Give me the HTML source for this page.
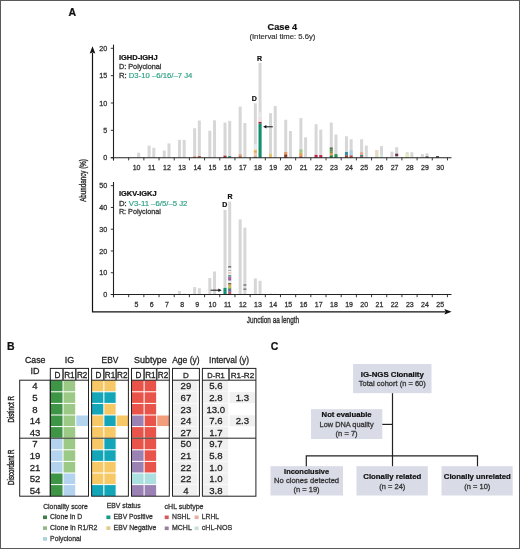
<!DOCTYPE html>
<html><head><meta charset="utf-8"><title>Case 4</title>
<style>
html,body{margin:0;padding:0;background:#fff;}
body{width:520px;height:549px;overflow:hidden;}
svg{display:block;will-change:transform;}
text{font-family:"Liberation Sans", sans-serif;}
</style></head>
<body>
<svg width="520" height="549" viewBox="0 0 520 549">
<rect x="0" y="0" width="520" height="549" fill="#fff"/>
<g id="panelA">
<text x="68.6" y="15.7" font-size="10.5" font-weight="bold" text-anchor="start" fill="#111" stroke="#111" stroke-width="0.22">A</text>
<text x="282.4" y="29.7" font-size="9.1" font-weight="bold" text-anchor="middle" fill="#111" stroke="#111" stroke-width="0.22" textLength="29.6" lengthAdjust="spacingAndGlyphs">Case 4</text>
<text x="282.4" y="39.3" font-size="7.4" text-anchor="middle" fill="#333" stroke="#333" stroke-width="0.18" textLength="66" lengthAdjust="spacingAndGlyphs">(Interval time: 5.6y)</text>
<rect x="137.12" y="152.75" width="3.00" height="4.95" fill="#d7d7d7"/>
<rect x="147.60" y="145.60" width="3.00" height="12.10" fill="#d7d7d7"/>
<rect x="152.30" y="147.80" width="3.00" height="9.90" fill="#d7d7d7"/>
<rect x="162.78" y="150.55" width="3.00" height="7.15" fill="#d7d7d7"/>
<rect x="167.48" y="143.40" width="3.00" height="14.30" fill="#d7d7d7"/>
<rect x="177.96" y="139.88" width="3.00" height="17.82" fill="#d7d7d7"/>
<rect x="182.66" y="139.88" width="3.00" height="17.82" fill="#d7d7d7"/>
<rect x="193.14" y="128.22" width="3.00" height="29.48" fill="#d7d7d7"/>
<rect x="197.84" y="120.52" width="3.00" height="37.18" fill="#d7d7d7"/>
<rect x="208.32" y="130.75" width="3.00" height="26.95" fill="#d7d7d7"/>
<rect x="213.02" y="120.30" width="3.00" height="37.40" fill="#d7d7d7"/>
<rect x="223.50" y="122.50" width="3.00" height="35.20" fill="#d7d7d7"/>
<rect x="228.20" y="120.85" width="3.00" height="36.85" fill="#d7d7d7"/>
<rect x="238.68" y="106.55" width="3.00" height="51.15" fill="#d7d7d7"/>
<rect x="243.38" y="123.05" width="3.00" height="34.65" fill="#d7d7d7"/>
<rect x="253.86" y="103.25" width="3.00" height="54.45" fill="#d7d7d7"/>
<rect x="258.56" y="62.82" width="3.00" height="94.88" fill="#d7d7d7"/>
<rect x="269.04" y="113.15" width="3.00" height="44.55" fill="#d7d7d7"/>
<rect x="273.74" y="106.00" width="3.00" height="51.70" fill="#d7d7d7"/>
<rect x="284.22" y="119.75" width="3.00" height="37.95" fill="#d7d7d7"/>
<rect x="288.92" y="131.02" width="3.00" height="26.67" fill="#d7d7d7"/>
<rect x="299.40" y="118.10" width="3.00" height="39.60" fill="#d7d7d7"/>
<rect x="304.10" y="137.35" width="3.00" height="20.35" fill="#d7d7d7"/>
<rect x="314.58" y="124.15" width="3.00" height="33.55" fill="#d7d7d7"/>
<rect x="319.28" y="129.65" width="3.00" height="28.05" fill="#d7d7d7"/>
<rect x="329.76" y="122.50" width="3.00" height="35.20" fill="#d7d7d7"/>
<rect x="334.46" y="134.60" width="3.00" height="23.10" fill="#d7d7d7"/>
<rect x="344.94" y="136.25" width="3.00" height="21.45" fill="#d7d7d7"/>
<rect x="349.64" y="139.27" width="3.00" height="18.43" fill="#d7d7d7"/>
<rect x="360.12" y="139.27" width="3.00" height="18.43" fill="#d7d7d7"/>
<rect x="364.82" y="145.60" width="3.00" height="12.10" fill="#d7d7d7"/>
<rect x="375.30" y="150.00" width="3.00" height="7.70" fill="#d7d7d7"/>
<rect x="380.00" y="146.15" width="3.00" height="11.55" fill="#d7d7d7"/>
<rect x="390.48" y="151.65" width="3.00" height="6.05" fill="#d7d7d7"/>
<rect x="395.18" y="147.25" width="3.00" height="10.45" fill="#d7d7d7"/>
<rect x="405.66" y="152.20" width="3.00" height="5.50" fill="#d7d7d7"/>
<rect x="410.36" y="152.20" width="3.00" height="5.50" fill="#d7d7d7"/>
<rect x="420.84" y="154.12" width="3.00" height="3.58" fill="#d7d7d7"/>
<rect x="425.54" y="153.30" width="3.00" height="4.40" fill="#d7d7d7"/>
<rect x="436.02" y="156.32" width="3.00" height="1.38" fill="#d7d7d7"/>
<rect x="193.14" y="156.70" width="3.00" height="1.00" fill="#c8553d"/>
<rect x="197.84" y="156.20" width="3.00" height="1.50" fill="#b5452f"/>
<rect x="223.50" y="155.70" width="3.00" height="2.00" fill="#a8322e"/>
<rect x="228.20" y="156.20" width="3.00" height="1.50" fill="#1b8f84"/>
<rect x="238.68" y="156.20" width="3.00" height="1.50" fill="#b0624a"/>
<rect x="238.68" y="154.20" width="3.00" height="2.00" fill="#e6a27a"/>
<rect x="253.86" y="156.50" width="3.00" height="1.20" fill="#8a5a90"/>
<rect x="253.86" y="155.10" width="3.00" height="1.40" fill="#f0c0a8"/>
<rect x="253.86" y="152.70" width="3.00" height="2.40" fill="#f2c8a8"/>
<rect x="253.86" y="150.20" width="3.00" height="2.50" fill="#e8a860"/>
<rect x="253.86" y="148.70" width="3.00" height="1.50" fill="#f6e6b0"/>
<rect x="253.86" y="144.20" width="3.00" height="4.50" fill="#e2ecf2"/>
<rect x="258.56" y="123.50" width="3.00" height="34.20" fill="#0f9070"/>
<rect x="258.56" y="121.80" width="3.00" height="1.70" fill="#a82838"/>
<rect x="258.56" y="116.70" width="3.00" height="5.10" fill="#f4dcdc"/>
<rect x="258.56" y="114.20" width="3.00" height="2.50" fill="#def0f0"/>
<rect x="258.56" y="111.70" width="3.00" height="2.50" fill="#f4e0e4"/>
<rect x="269.04" y="153.90" width="3.00" height="3.80" fill="#e9c36a"/>
<rect x="284.22" y="154.30" width="3.00" height="3.40" fill="#8a3a2a"/>
<rect x="284.22" y="152.00" width="3.00" height="2.30" fill="#e89a5a"/>
<rect x="299.40" y="156.30" width="3.00" height="1.40" fill="#9a4a2a"/>
<rect x="299.40" y="152.80" width="3.00" height="3.50" fill="#e8a050"/>
<rect x="299.40" y="149.40" width="3.00" height="3.40" fill="#9acb8a"/>
<rect x="314.58" y="154.90" width="3.00" height="2.80" fill="#c8234a"/>
<rect x="319.28" y="155.10" width="3.00" height="2.60" fill="#c8234a"/>
<rect x="329.76" y="155.30" width="3.00" height="2.40" fill="#1f7a3a"/>
<rect x="329.76" y="153.30" width="3.00" height="2.00" fill="#e0a050"/>
<rect x="329.76" y="151.30" width="3.00" height="2.00" fill="#8a8a40"/>
<rect x="329.76" y="149.30" width="3.00" height="2.00" fill="#4a9a50"/>
<rect x="329.76" y="147.50" width="3.00" height="1.80" fill="#5a6a4a"/>
<rect x="334.46" y="154.20" width="3.00" height="3.50" fill="#1a9a50"/>
<rect x="344.94" y="155.30" width="3.00" height="2.40" fill="#a0402a"/>
<rect x="344.94" y="152.00" width="3.00" height="3.30" fill="#3a8aa0"/>
<rect x="349.64" y="155.30" width="3.00" height="2.40" fill="#c04040"/>
<rect x="349.64" y="150.30" width="3.00" height="5.00" fill="#a9cfe6"/>
<rect x="360.12" y="156.30" width="3.00" height="1.40" fill="#b03a2a"/>
<rect x="360.12" y="154.80" width="3.00" height="1.50" fill="#2a8a8a"/>
<rect x="360.12" y="152.30" width="3.00" height="2.50" fill="#f0a080"/>
<rect x="375.30" y="150.00" width="3.00" height="7.70" fill="#e8dcc0"/>
<rect x="380.00" y="154.70" width="3.00" height="3.00" fill="#cfe8e0"/>
<rect x="395.18" y="153.70" width="3.00" height="2.50" fill="#6a2a4a"/>
<rect x="405.66" y="153.70" width="3.00" height="4.00" fill="#e4ecb0"/>
<rect x="425.54" y="156.50" width="3.00" height="1.20" fill="#333"/>
<rect x="436.02" y="156.20" width="3.00" height="1.50" fill="#333"/>
<line x1="113.5" y1="44.6" x2="113.5" y2="160.39999999999998" stroke="#222" stroke-width="1.1"/>
<line x1="110.8" y1="157.7" x2="451.5" y2="157.7" stroke="#222" stroke-width="1.1"/>
<line x1="113.5" y1="157.7" x2="113.5" y2="160.39999999999998" stroke="#222" stroke-width="0.9"/>
<line x1="128.68" y1="157.7" x2="128.68" y2="160.39999999999998" stroke="#222" stroke-width="0.9"/>
<line x1="143.86" y1="157.7" x2="143.86" y2="160.39999999999998" stroke="#222" stroke-width="0.9"/>
<line x1="159.04" y1="157.7" x2="159.04" y2="160.39999999999998" stroke="#222" stroke-width="0.9"/>
<line x1="174.22" y1="157.7" x2="174.22" y2="160.39999999999998" stroke="#222" stroke-width="0.9"/>
<line x1="189.4" y1="157.7" x2="189.4" y2="160.39999999999998" stroke="#222" stroke-width="0.9"/>
<line x1="204.58" y1="157.7" x2="204.58" y2="160.39999999999998" stroke="#222" stroke-width="0.9"/>
<line x1="219.76" y1="157.7" x2="219.76" y2="160.39999999999998" stroke="#222" stroke-width="0.9"/>
<line x1="234.94" y1="157.7" x2="234.94" y2="160.39999999999998" stroke="#222" stroke-width="0.9"/>
<line x1="250.12" y1="157.7" x2="250.12" y2="160.39999999999998" stroke="#222" stroke-width="0.9"/>
<line x1="265.3" y1="157.7" x2="265.3" y2="160.39999999999998" stroke="#222" stroke-width="0.9"/>
<line x1="280.48" y1="157.7" x2="280.48" y2="160.39999999999998" stroke="#222" stroke-width="0.9"/>
<line x1="295.66" y1="157.7" x2="295.66" y2="160.39999999999998" stroke="#222" stroke-width="0.9"/>
<line x1="310.84" y1="157.7" x2="310.84" y2="160.39999999999998" stroke="#222" stroke-width="0.9"/>
<line x1="326.02" y1="157.7" x2="326.02" y2="160.39999999999998" stroke="#222" stroke-width="0.9"/>
<line x1="341.2" y1="157.7" x2="341.2" y2="160.39999999999998" stroke="#222" stroke-width="0.9"/>
<line x1="356.38" y1="157.7" x2="356.38" y2="160.39999999999998" stroke="#222" stroke-width="0.9"/>
<line x1="371.56" y1="157.7" x2="371.56" y2="160.39999999999998" stroke="#222" stroke-width="0.9"/>
<line x1="386.74" y1="157.7" x2="386.74" y2="160.39999999999998" stroke="#222" stroke-width="0.9"/>
<line x1="401.92" y1="157.7" x2="401.92" y2="160.39999999999998" stroke="#222" stroke-width="0.9"/>
<line x1="417.1" y1="157.7" x2="417.1" y2="160.39999999999998" stroke="#222" stroke-width="0.9"/>
<line x1="432.28" y1="157.7" x2="432.28" y2="160.39999999999998" stroke="#222" stroke-width="0.9"/>
<line x1="447.46" y1="157.7" x2="447.46" y2="160.39999999999998" stroke="#222" stroke-width="0.9"/>
<line x1="110.8" y1="157.7" x2="113.5" y2="157.7" stroke="#222" stroke-width="0.9"/>
<text x="107.3" y="160.3" font-size="7.2" text-anchor="end" fill="#333" stroke="#333" stroke-width="0.28">0</text>
<line x1="110.8" y1="130.35" x2="113.5" y2="130.35" stroke="#222" stroke-width="0.9"/>
<text x="107.3" y="132.95" font-size="7.2" text-anchor="end" fill="#333" stroke="#333" stroke-width="0.28">5</text>
<line x1="110.8" y1="103.0" x2="113.5" y2="103.0" stroke="#222" stroke-width="0.9"/>
<text x="107.3" y="105.6" font-size="7.2" text-anchor="end" fill="#333" stroke="#333" stroke-width="0.28" textLength="8.0" lengthAdjust="spacingAndGlyphs">10</text>
<line x1="110.8" y1="75.65" x2="113.5" y2="75.65" stroke="#222" stroke-width="0.9"/>
<text x="107.3" y="78.25" font-size="7.2" text-anchor="end" fill="#333" stroke="#333" stroke-width="0.28" textLength="8.0" lengthAdjust="spacingAndGlyphs">15</text>
<line x1="110.8" y1="48.3" x2="113.5" y2="48.3" stroke="#222" stroke-width="0.9"/>
<text x="107.3" y="50.9" font-size="7.2" text-anchor="end" fill="#333" stroke="#333" stroke-width="0.28" textLength="8.0" lengthAdjust="spacingAndGlyphs">20</text>
<text x="136.57" y="170.3" font-size="7.0" text-anchor="middle" fill="#333" stroke="#333" stroke-width="0.28">10</text>
<text x="151.75" y="170.3" font-size="7.0" text-anchor="middle" fill="#333" stroke="#333" stroke-width="0.28">11</text>
<text x="166.93" y="170.3" font-size="7.0" text-anchor="middle" fill="#333" stroke="#333" stroke-width="0.28">12</text>
<text x="182.11" y="170.3" font-size="7.0" text-anchor="middle" fill="#333" stroke="#333" stroke-width="0.28">13</text>
<text x="197.29" y="170.3" font-size="7.0" text-anchor="middle" fill="#333" stroke="#333" stroke-width="0.28">14</text>
<text x="212.47" y="170.3" font-size="7.0" text-anchor="middle" fill="#333" stroke="#333" stroke-width="0.28">15</text>
<text x="227.65" y="170.3" font-size="7.0" text-anchor="middle" fill="#333" stroke="#333" stroke-width="0.28">16</text>
<text x="242.83" y="170.3" font-size="7.0" text-anchor="middle" fill="#333" stroke="#333" stroke-width="0.28">17</text>
<text x="258.01" y="170.3" font-size="7.0" text-anchor="middle" fill="#333" stroke="#333" stroke-width="0.28">18</text>
<text x="273.19" y="170.3" font-size="7.0" text-anchor="middle" fill="#333" stroke="#333" stroke-width="0.28">19</text>
<text x="288.37" y="170.3" font-size="7.0" text-anchor="middle" fill="#333" stroke="#333" stroke-width="0.28">20</text>
<text x="303.55" y="170.3" font-size="7.0" text-anchor="middle" fill="#333" stroke="#333" stroke-width="0.28">21</text>
<text x="318.73" y="170.3" font-size="7.0" text-anchor="middle" fill="#333" stroke="#333" stroke-width="0.28">22</text>
<text x="333.91" y="170.3" font-size="7.0" text-anchor="middle" fill="#333" stroke="#333" stroke-width="0.28">23</text>
<text x="349.09" y="170.3" font-size="7.0" text-anchor="middle" fill="#333" stroke="#333" stroke-width="0.28">24</text>
<text x="364.27" y="170.3" font-size="7.0" text-anchor="middle" fill="#333" stroke="#333" stroke-width="0.28">25</text>
<text x="379.45" y="170.3" font-size="7.0" text-anchor="middle" fill="#333" stroke="#333" stroke-width="0.28">26</text>
<text x="394.63" y="170.3" font-size="7.0" text-anchor="middle" fill="#333" stroke="#333" stroke-width="0.28">27</text>
<text x="409.81" y="170.3" font-size="7.0" text-anchor="middle" fill="#333" stroke="#333" stroke-width="0.28">28</text>
<text x="424.99" y="170.3" font-size="7.0" text-anchor="middle" fill="#333" stroke="#333" stroke-width="0.28">29</text>
<text x="440.17" y="170.3" font-size="7.0" text-anchor="middle" fill="#333" stroke="#333" stroke-width="0.28">30</text>
<rect x="132.42" y="293.96" width="3.00" height="0.54" fill="#d7d7d7"/>
<rect x="137.12" y="293.96" width="3.00" height="0.54" fill="#d7d7d7"/>
<rect x="147.60" y="293.96" width="3.00" height="0.54" fill="#d7d7d7"/>
<rect x="152.30" y="293.96" width="3.00" height="0.54" fill="#d7d7d7"/>
<rect x="162.78" y="293.85" width="3.00" height="0.65" fill="#d7d7d7"/>
<rect x="167.48" y="293.85" width="3.00" height="0.65" fill="#d7d7d7"/>
<rect x="177.96" y="291.03" width="3.00" height="3.47" fill="#d7d7d7"/>
<rect x="182.66" y="293.63" width="3.00" height="0.87" fill="#d7d7d7"/>
<rect x="193.14" y="287.12" width="3.00" height="7.38" fill="#d7d7d7"/>
<rect x="197.84" y="288.21" width="3.00" height="6.29" fill="#d7d7d7"/>
<rect x="208.32" y="278.01" width="3.00" height="16.49" fill="#d7d7d7"/>
<rect x="213.02" y="271.50" width="3.00" height="23.00" fill="#d7d7d7"/>
<rect x="223.50" y="209.87" width="3.00" height="84.63" fill="#d7d7d7"/>
<rect x="228.20" y="201.62" width="3.00" height="92.88" fill="#d7d7d7"/>
<rect x="238.68" y="219.42" width="3.00" height="75.08" fill="#d7d7d7"/>
<rect x="243.38" y="227.66" width="3.00" height="66.84" fill="#d7d7d7"/>
<rect x="253.86" y="278.44" width="3.00" height="16.06" fill="#d7d7d7"/>
<rect x="258.56" y="280.83" width="3.00" height="13.67" fill="#d7d7d7"/>
<rect x="269.04" y="293.63" width="3.00" height="0.87" fill="#d7d7d7"/>
<rect x="273.74" y="293.85" width="3.00" height="0.65" fill="#d7d7d7"/>
<rect x="284.22" y="293.96" width="3.00" height="0.54" fill="#d7d7d7"/>
<rect x="288.92" y="293.96" width="3.00" height="0.54" fill="#d7d7d7"/>
<rect x="299.40" y="294.07" width="3.00" height="0.43" fill="#d7d7d7"/>
<rect x="304.10" y="294.07" width="3.00" height="0.43" fill="#d7d7d7"/>
<rect x="314.58" y="294.07" width="3.00" height="0.43" fill="#d7d7d7"/>
<rect x="319.28" y="294.07" width="3.00" height="0.43" fill="#d7d7d7"/>
<rect x="329.76" y="294.07" width="3.00" height="0.43" fill="#d7d7d7"/>
<rect x="334.46" y="294.07" width="3.00" height="0.43" fill="#d7d7d7"/>
<rect x="344.94" y="294.07" width="3.00" height="0.43" fill="#d7d7d7"/>
<rect x="349.64" y="294.07" width="3.00" height="0.43" fill="#d7d7d7"/>
<rect x="360.12" y="294.17" width="3.00" height="0.33" fill="#d7d7d7"/>
<rect x="364.82" y="294.17" width="3.00" height="0.33" fill="#d7d7d7"/>
<rect x="375.30" y="294.17" width="3.00" height="0.33" fill="#d7d7d7"/>
<rect x="380.00" y="294.17" width="3.00" height="0.33" fill="#d7d7d7"/>
<rect x="390.48" y="294.17" width="3.00" height="0.33" fill="#d7d7d7"/>
<rect x="395.18" y="294.17" width="3.00" height="0.33" fill="#d7d7d7"/>
<rect x="405.66" y="294.28" width="3.00" height="0.22" fill="#d7d7d7"/>
<rect x="410.36" y="294.28" width="3.00" height="0.22" fill="#d7d7d7"/>
<rect x="420.84" y="294.28" width="3.00" height="0.22" fill="#d7d7d7"/>
<rect x="425.54" y="294.28" width="3.00" height="0.22" fill="#d7d7d7"/>
<rect x="436.02" y="294.28" width="3.00" height="0.22" fill="#d7d7d7"/>
<rect x="440.72" y="294.28" width="3.00" height="0.22" fill="#d7d7d7"/>
<rect x="223.50" y="287.90" width="3.00" height="6.60" fill="#0f9470"/>
<rect x="228.20" y="291.50" width="3.00" height="3.00" fill="#b06070"/>
<rect x="228.20" y="288.90" width="3.00" height="2.60" fill="#7060a0"/>
<rect x="228.20" y="287.50" width="3.00" height="1.40" fill="#60a040"/>
<rect x="228.20" y="286.30" width="3.00" height="1.20" fill="#b0d040"/>
<rect x="228.20" y="284.30" width="3.00" height="2.00" fill="#e0a050"/>
<rect x="228.20" y="283.00" width="3.00" height="1.30" fill="#706040"/>
<rect x="228.20" y="280.50" width="3.00" height="2.50" fill="#e4f2f2"/>
<rect x="228.20" y="278.10" width="3.00" height="2.40" fill="#9a5aa8"/>
<rect x="228.20" y="276.50" width="3.00" height="1.60" fill="#c060a0"/>
<rect x="228.20" y="274.90" width="3.00" height="1.60" fill="#50a890"/>
<rect x="228.20" y="273.50" width="3.00" height="1.40" fill="#f4f0f0"/>
<rect x="228.20" y="272.20" width="3.00" height="1.30" fill="#f0c0a0"/>
<rect x="228.20" y="270.90" width="3.00" height="1.30" fill="#f0f0f0"/>
<rect x="228.20" y="269.90" width="3.00" height="1.00" fill="#aaaaaa"/>
<rect x="228.20" y="267.60" width="3.00" height="2.30" fill="#ececec"/>
<rect x="228.20" y="266.00" width="3.00" height="1.60" fill="#777777"/>
<rect x="243.38" y="288.50" width="3.00" height="1.40" fill="#777"/>
<rect x="243.38" y="284.30" width="3.00" height="1.40" fill="#777"/>
<line x1="113.5" y1="182.0" x2="113.5" y2="297.2" stroke="#222" stroke-width="1.1"/>
<line x1="110.8" y1="294.5" x2="451.5" y2="294.5" stroke="#222" stroke-width="1.1"/>
<line x1="113.5" y1="294.5" x2="113.5" y2="297.2" stroke="#222" stroke-width="0.9"/>
<line x1="128.68" y1="294.5" x2="128.68" y2="297.2" stroke="#222" stroke-width="0.9"/>
<line x1="143.86" y1="294.5" x2="143.86" y2="297.2" stroke="#222" stroke-width="0.9"/>
<line x1="159.04" y1="294.5" x2="159.04" y2="297.2" stroke="#222" stroke-width="0.9"/>
<line x1="174.22" y1="294.5" x2="174.22" y2="297.2" stroke="#222" stroke-width="0.9"/>
<line x1="189.4" y1="294.5" x2="189.4" y2="297.2" stroke="#222" stroke-width="0.9"/>
<line x1="204.58" y1="294.5" x2="204.58" y2="297.2" stroke="#222" stroke-width="0.9"/>
<line x1="219.76" y1="294.5" x2="219.76" y2="297.2" stroke="#222" stroke-width="0.9"/>
<line x1="234.94" y1="294.5" x2="234.94" y2="297.2" stroke="#222" stroke-width="0.9"/>
<line x1="250.12" y1="294.5" x2="250.12" y2="297.2" stroke="#222" stroke-width="0.9"/>
<line x1="265.3" y1="294.5" x2="265.3" y2="297.2" stroke="#222" stroke-width="0.9"/>
<line x1="280.48" y1="294.5" x2="280.48" y2="297.2" stroke="#222" stroke-width="0.9"/>
<line x1="295.66" y1="294.5" x2="295.66" y2="297.2" stroke="#222" stroke-width="0.9"/>
<line x1="310.84" y1="294.5" x2="310.84" y2="297.2" stroke="#222" stroke-width="0.9"/>
<line x1="326.02" y1="294.5" x2="326.02" y2="297.2" stroke="#222" stroke-width="0.9"/>
<line x1="341.2" y1="294.5" x2="341.2" y2="297.2" stroke="#222" stroke-width="0.9"/>
<line x1="356.38" y1="294.5" x2="356.38" y2="297.2" stroke="#222" stroke-width="0.9"/>
<line x1="371.56" y1="294.5" x2="371.56" y2="297.2" stroke="#222" stroke-width="0.9"/>
<line x1="386.74" y1="294.5" x2="386.74" y2="297.2" stroke="#222" stroke-width="0.9"/>
<line x1="401.92" y1="294.5" x2="401.92" y2="297.2" stroke="#222" stroke-width="0.9"/>
<line x1="417.1" y1="294.5" x2="417.1" y2="297.2" stroke="#222" stroke-width="0.9"/>
<line x1="432.28" y1="294.5" x2="432.28" y2="297.2" stroke="#222" stroke-width="0.9"/>
<line x1="447.46" y1="294.5" x2="447.46" y2="297.2" stroke="#222" stroke-width="0.9"/>
<line x1="110.8" y1="294.5" x2="113.5" y2="294.5" stroke="#222" stroke-width="0.9"/>
<text x="107.3" y="297.1" font-size="7.2" text-anchor="end" fill="#333" stroke="#333" stroke-width="0.28">0</text>
<line x1="110.8" y1="272.74" x2="113.5" y2="272.74" stroke="#222" stroke-width="0.9"/>
<text x="107.3" y="275.34" font-size="7.2" text-anchor="end" fill="#333" stroke="#333" stroke-width="0.28" textLength="8.0" lengthAdjust="spacingAndGlyphs">10</text>
<line x1="110.8" y1="250.98" x2="113.5" y2="250.98" stroke="#222" stroke-width="0.9"/>
<text x="107.3" y="253.58" font-size="7.2" text-anchor="end" fill="#333" stroke="#333" stroke-width="0.28" textLength="8.0" lengthAdjust="spacingAndGlyphs">20</text>
<line x1="110.8" y1="229.22" x2="113.5" y2="229.22" stroke="#222" stroke-width="0.9"/>
<text x="107.3" y="231.82" font-size="7.2" text-anchor="end" fill="#333" stroke="#333" stroke-width="0.28" textLength="8.0" lengthAdjust="spacingAndGlyphs">30</text>
<line x1="110.8" y1="207.46" x2="113.5" y2="207.46" stroke="#222" stroke-width="0.9"/>
<text x="107.3" y="210.06" font-size="7.2" text-anchor="end" fill="#333" stroke="#333" stroke-width="0.28" textLength="8.0" lengthAdjust="spacingAndGlyphs">40</text>
<line x1="110.8" y1="185.7" x2="113.5" y2="185.7" stroke="#222" stroke-width="0.9"/>
<text x="107.3" y="188.3" font-size="7.2" text-anchor="end" fill="#333" stroke="#333" stroke-width="0.28" textLength="8.0" lengthAdjust="spacingAndGlyphs">50</text>
<text x="136.57" y="306.6" font-size="7.0" text-anchor="middle" fill="#333" stroke="#333" stroke-width="0.28">5</text>
<text x="151.75" y="306.6" font-size="7.0" text-anchor="middle" fill="#333" stroke="#333" stroke-width="0.28">6</text>
<text x="166.93" y="306.6" font-size="7.0" text-anchor="middle" fill="#333" stroke="#333" stroke-width="0.28">7</text>
<text x="182.11" y="306.6" font-size="7.0" text-anchor="middle" fill="#333" stroke="#333" stroke-width="0.28">8</text>
<text x="197.29" y="306.6" font-size="7.0" text-anchor="middle" fill="#333" stroke="#333" stroke-width="0.28">9</text>
<text x="212.47" y="306.6" font-size="7.0" text-anchor="middle" fill="#333" stroke="#333" stroke-width="0.28">10</text>
<text x="227.65" y="306.6" font-size="7.0" text-anchor="middle" fill="#333" stroke="#333" stroke-width="0.28">11</text>
<text x="242.83" y="306.6" font-size="7.0" text-anchor="middle" fill="#333" stroke="#333" stroke-width="0.28">12</text>
<text x="258.01" y="306.6" font-size="7.0" text-anchor="middle" fill="#333" stroke="#333" stroke-width="0.28">13</text>
<text x="273.19" y="306.6" font-size="7.0" text-anchor="middle" fill="#333" stroke="#333" stroke-width="0.28">14</text>
<text x="288.37" y="306.6" font-size="7.0" text-anchor="middle" fill="#333" stroke="#333" stroke-width="0.28">15</text>
<text x="303.55" y="306.6" font-size="7.0" text-anchor="middle" fill="#333" stroke="#333" stroke-width="0.28">16</text>
<text x="318.73" y="306.6" font-size="7.0" text-anchor="middle" fill="#333" stroke="#333" stroke-width="0.28">17</text>
<text x="333.91" y="306.6" font-size="7.0" text-anchor="middle" fill="#333" stroke="#333" stroke-width="0.28">18</text>
<text x="349.09" y="306.6" font-size="7.0" text-anchor="middle" fill="#333" stroke="#333" stroke-width="0.28">19</text>
<text x="364.27" y="306.6" font-size="7.0" text-anchor="middle" fill="#333" stroke="#333" stroke-width="0.28">20</text>
<text x="379.45" y="306.6" font-size="7.0" text-anchor="middle" fill="#333" stroke="#333" stroke-width="0.28">21</text>
<text x="394.63" y="306.6" font-size="7.0" text-anchor="middle" fill="#333" stroke="#333" stroke-width="0.28">22</text>
<text x="409.81" y="306.6" font-size="7.0" text-anchor="middle" fill="#333" stroke="#333" stroke-width="0.28">23</text>
<text x="424.99" y="306.6" font-size="7.0" text-anchor="middle" fill="#333" stroke="#333" stroke-width="0.28">24</text>
<text x="440.17" y="306.6" font-size="7.0" text-anchor="middle" fill="#333" stroke="#333" stroke-width="0.28">25</text>
<text x="118.9" y="60.1" font-size="7.2" font-weight="bold" text-anchor="start" fill="#111" stroke="#111" stroke-width="0.22" textLength="38.8" lengthAdjust="spacingAndGlyphs">IGHD-IGHJ</text>
<text x="118.9" y="69.0" font-size="7.2" text-anchor="start" fill="#333" stroke="#333" stroke-width="0.28" textLength="42.6" lengthAdjust="spacingAndGlyphs">D: Polyclonal</text>
<text x="118.9" y="78.2" font-size="7.2" text-anchor="start" fill="#333" stroke="#333" stroke-width="0.28" textLength="73.4" lengthAdjust="spacingAndGlyphs">R: <tspan fill="#2fa285" stroke="#2fa285" stroke-width="0.18">D3-10 –6/16/–7 J4</tspan></text>
<text x="118.9" y="196.1" font-size="7.2" font-weight="bold" text-anchor="start" fill="#111" stroke="#111" stroke-width="0.22" textLength="37.7" lengthAdjust="spacingAndGlyphs">IGKV-IGKJ</text>
<text x="118.9" y="205.5" font-size="7.2" text-anchor="start" fill="#333" stroke="#333" stroke-width="0.28" textLength="68.5" lengthAdjust="spacingAndGlyphs">D: <tspan fill="#2fa285" stroke="#2fa285" stroke-width="0.18">V3-11 –6/5/–5 J2</tspan></text>
<text x="118.9" y="214.2" font-size="7.2" text-anchor="start" fill="#333" stroke="#333" stroke-width="0.28" textLength="42.0" lengthAdjust="spacingAndGlyphs">R: Polyclonal</text>
<text x="259.6" y="60.8" font-size="7.0" font-weight="bold" text-anchor="middle" fill="#111" stroke="#111" stroke-width="0.22">R</text>
<text x="254.4" y="100.8" font-size="7.0" font-weight="bold" text-anchor="middle" fill="#111" stroke="#111" stroke-width="0.22">D</text>
<text x="230.0" y="199.1" font-size="7.0" font-weight="bold" text-anchor="middle" fill="#111" stroke="#111" stroke-width="0.22">R</text>
<text x="224.7" y="207.4" font-size="7.0" font-weight="bold" text-anchor="middle" fill="#111" stroke="#111" stroke-width="0.22">D</text>
<line x1="272.8" y1="126.8" x2="265.76" y2="126.8" stroke="#111" stroke-width="1.0"/>
<polygon points="263.2,126.8 266.4,125.0 266.4,128.6" fill="#111"/>
<line x1="210.6" y1="290.2" x2="219.04" y2="290.2" stroke="#111" stroke-width="1.0"/>
<polygon points="221.6,290.2 218.4,288.4 218.4,292.0" fill="#111"/>
<path d="M92.5 53 L92.5 311.8 L445.5 311.8" fill="none" stroke="#111" stroke-width="1.2"/>
<polygon points="92.5,46.3 89.7,53.6 92.5,52.4 95.3,53.6" fill="#111"/>
<polygon points="451.6,311.8 444.4,309.1 445.6,311.8 444.4,314.5" fill="#111"/>
<text x="86.2" y="180.5" font-size="8.3" text-anchor="middle" fill="#333" stroke="#333" stroke-width="0.4" textLength="42.7" lengthAdjust="spacingAndGlyphs" transform="rotate(-90 86.2 180.5)">Abundancy (%)</text>
<text x="273.0" y="322.9" font-size="9.6" text-anchor="middle" fill="#333" stroke="#333" stroke-width="0.4" textLength="52.3" lengthAdjust="spacingAndGlyphs">Junction aa length</text>
</g>
<g id="panelB">
<text x="7.0" y="349.5" font-size="10.5" font-weight="bold" text-anchor="start" fill="#111" stroke="#111" stroke-width="0.22">B</text>
<text x="35.2" y="362.8" font-size="9.0" text-anchor="middle" fill="#222" stroke="#222" stroke-width="0.28" textLength="20.4" lengthAdjust="spacingAndGlyphs">Case</text>
<text x="35.0" y="374.3" font-size="9.0" text-anchor="middle" fill="#222" stroke="#222" stroke-width="0.28">ID</text>
<text x="69.4" y="362.8" font-size="9.0" text-anchor="middle" fill="#222" stroke="#222" stroke-width="0.28">IG</text>
<text x="110.0" y="362.8" font-size="9.0" text-anchor="middle" fill="#222" stroke="#222" stroke-width="0.28" textLength="16.8" lengthAdjust="spacingAndGlyphs">EBV</text>
<text x="150.4" y="362.8" font-size="9.0" text-anchor="middle" fill="#222" stroke="#222" stroke-width="0.28" textLength="32.8" lengthAdjust="spacingAndGlyphs">Subtype</text>
<text x="185.9" y="362.8" font-size="9.0" text-anchor="middle" fill="#222" stroke="#222" stroke-width="0.28" textLength="27.5" lengthAdjust="spacingAndGlyphs">Age (y)</text>
<text x="229.1" y="362.8" font-size="9.0" text-anchor="middle" fill="#222" stroke="#222" stroke-width="0.28" textLength="40" lengthAdjust="spacingAndGlyphs">Interval (y)</text>
<rect x="50.30" y="380.20" width="12.73" height="11.60" fill="#3e9546"/>
<rect x="63.03" y="380.20" width="12.73" height="11.60" fill="#9cca86"/>
<rect x="50.30" y="391.80" width="12.73" height="11.60" fill="#3e9546"/>
<rect x="63.03" y="391.80" width="12.73" height="11.60" fill="#9cca86"/>
<rect x="50.30" y="403.40" width="12.73" height="11.60" fill="#3e9546"/>
<rect x="63.03" y="403.40" width="12.73" height="11.60" fill="#9cca86"/>
<rect x="50.30" y="415.00" width="12.73" height="11.60" fill="#3e9546"/>
<rect x="63.03" y="415.00" width="12.73" height="11.60" fill="#9cca86"/>
<rect x="75.77" y="415.00" width="12.73" height="11.60" fill="#b3d3ee"/>
<rect x="50.30" y="426.60" width="12.73" height="11.60" fill="#3e9546"/>
<rect x="63.03" y="426.60" width="12.73" height="11.60" fill="#9cca86"/>
<rect x="50.30" y="438.20" width="12.73" height="11.60" fill="#b3d3ee"/>
<rect x="63.03" y="438.20" width="12.73" height="11.60" fill="#9cca86"/>
<rect x="50.30" y="449.80" width="12.73" height="11.60" fill="#b3d3ee"/>
<rect x="63.03" y="449.80" width="12.73" height="11.60" fill="#9cca86"/>
<rect x="50.30" y="461.40" width="12.73" height="11.60" fill="#b3d3ee"/>
<rect x="63.03" y="461.40" width="12.73" height="11.60" fill="#9cca86"/>
<rect x="50.30" y="473.00" width="12.73" height="11.60" fill="#3e9546"/>
<rect x="63.03" y="473.00" width="12.73" height="11.60" fill="#b3d3ee"/>
<rect x="50.30" y="484.60" width="12.73" height="11.60" fill="#3e9546"/>
<rect x="63.03" y="484.60" width="12.73" height="11.60" fill="#b3d3ee"/>
<rect x="50.30" y="391.30" width="38.20" height="1.00" fill="#fff"/>
<rect x="50.30" y="402.90" width="38.20" height="1.00" fill="#fff"/>
<rect x="50.30" y="414.50" width="38.20" height="1.00" fill="#fff"/>
<rect x="50.30" y="426.10" width="38.20" height="1.00" fill="#fff"/>
<rect x="50.30" y="437.70" width="38.20" height="1.00" fill="#fff"/>
<rect x="50.30" y="449.30" width="38.20" height="1.00" fill="#fff"/>
<rect x="50.30" y="460.90" width="38.20" height="1.00" fill="#fff"/>
<rect x="50.30" y="472.50" width="38.20" height="1.00" fill="#fff"/>
<rect x="50.30" y="484.10" width="38.20" height="1.00" fill="#fff"/>
<rect x="62.53" y="380.20" width="1.00" height="116.00" fill="#fff"/>
<rect x="75.27" y="380.20" width="1.00" height="116.00" fill="#fff"/>
<rect x="91.60" y="380.20" width="12.27" height="11.60" fill="#f7c866"/>
<rect x="103.87" y="380.20" width="12.27" height="11.60" fill="#f7c866"/>
<rect x="91.60" y="391.80" width="12.27" height="11.60" fill="#13a6b9"/>
<rect x="103.87" y="391.80" width="12.27" height="11.60" fill="#13a6b9"/>
<rect x="91.60" y="403.40" width="12.27" height="11.60" fill="#13a6b9"/>
<rect x="103.87" y="403.40" width="12.27" height="11.60" fill="#f7c866"/>
<rect x="91.60" y="415.00" width="12.27" height="11.60" fill="#f7c866"/>
<rect x="103.87" y="415.00" width="12.27" height="11.60" fill="#13a6b9"/>
<rect x="116.13" y="415.00" width="12.27" height="11.60" fill="#f7c866"/>
<rect x="91.60" y="426.60" width="12.27" height="11.60" fill="#f7c866"/>
<rect x="103.87" y="426.60" width="12.27" height="11.60" fill="#f7c866"/>
<rect x="91.60" y="438.20" width="12.27" height="11.60" fill="#f7c866"/>
<rect x="103.87" y="438.20" width="12.27" height="11.60" fill="#13a6b9"/>
<rect x="91.60" y="449.80" width="12.27" height="11.60" fill="#13a6b9"/>
<rect x="103.87" y="449.80" width="12.27" height="11.60" fill="#13a6b9"/>
<rect x="91.60" y="461.40" width="12.27" height="11.60" fill="#f7c866"/>
<rect x="103.87" y="461.40" width="12.27" height="11.60" fill="#f7c866"/>
<rect x="91.60" y="473.00" width="12.27" height="11.60" fill="#f7c866"/>
<rect x="103.87" y="473.00" width="12.27" height="11.60" fill="#f7c866"/>
<rect x="91.60" y="484.60" width="12.27" height="11.60" fill="#13a6b9"/>
<rect x="103.87" y="484.60" width="12.27" height="11.60" fill="#13a6b9"/>
<rect x="91.60" y="391.30" width="36.80" height="1.00" fill="#fff"/>
<rect x="91.60" y="402.90" width="36.80" height="1.00" fill="#fff"/>
<rect x="91.60" y="414.50" width="36.80" height="1.00" fill="#fff"/>
<rect x="91.60" y="426.10" width="36.80" height="1.00" fill="#fff"/>
<rect x="91.60" y="437.70" width="36.80" height="1.00" fill="#fff"/>
<rect x="91.60" y="449.30" width="36.80" height="1.00" fill="#fff"/>
<rect x="91.60" y="460.90" width="36.80" height="1.00" fill="#fff"/>
<rect x="91.60" y="472.50" width="36.80" height="1.00" fill="#fff"/>
<rect x="91.60" y="484.10" width="36.80" height="1.00" fill="#fff"/>
<rect x="103.37" y="380.20" width="1.00" height="116.00" fill="#fff"/>
<rect x="115.63" y="380.20" width="1.00" height="116.00" fill="#fff"/>
<rect x="131.50" y="380.20" width="12.60" height="11.60" fill="#e9544a"/>
<rect x="144.10" y="380.20" width="12.60" height="11.60" fill="#e9544a"/>
<rect x="131.50" y="391.80" width="12.60" height="11.60" fill="#e9544a"/>
<rect x="144.10" y="391.80" width="12.60" height="11.60" fill="#e9544a"/>
<rect x="131.50" y="403.40" width="12.60" height="11.60" fill="#e9544a"/>
<rect x="144.10" y="403.40" width="12.60" height="11.60" fill="#e9544a"/>
<rect x="131.50" y="415.00" width="12.60" height="11.60" fill="#9b82b5"/>
<rect x="144.10" y="415.00" width="12.60" height="11.60" fill="#e9544a"/>
<rect x="156.70" y="415.00" width="12.60" height="11.60" fill="#f29d7c"/>
<rect x="131.50" y="426.60" width="12.60" height="11.60" fill="#e9544a"/>
<rect x="144.10" y="426.60" width="12.60" height="11.60" fill="#e9544a"/>
<rect x="131.50" y="438.20" width="12.60" height="11.60" fill="#e9544a"/>
<rect x="144.10" y="438.20" width="12.60" height="11.60" fill="#e9544a"/>
<rect x="131.50" y="449.80" width="12.60" height="11.60" fill="#9b82b5"/>
<rect x="144.10" y="449.80" width="12.60" height="11.60" fill="#e9544a"/>
<rect x="131.50" y="461.40" width="12.60" height="11.60" fill="#9b82b5"/>
<rect x="144.10" y="461.40" width="12.60" height="11.60" fill="#e9544a"/>
<rect x="131.50" y="473.00" width="12.60" height="11.60" fill="#abdfe0"/>
<rect x="144.10" y="473.00" width="12.60" height="11.60" fill="#abdfe0"/>
<rect x="131.50" y="484.60" width="12.60" height="11.60" fill="#9b82b5"/>
<rect x="144.10" y="484.60" width="12.60" height="11.60" fill="#9b82b5"/>
<rect x="131.50" y="391.30" width="37.80" height="1.00" fill="#fff"/>
<rect x="131.50" y="402.90" width="37.80" height="1.00" fill="#fff"/>
<rect x="131.50" y="414.50" width="37.80" height="1.00" fill="#fff"/>
<rect x="131.50" y="426.10" width="37.80" height="1.00" fill="#fff"/>
<rect x="131.50" y="437.70" width="37.80" height="1.00" fill="#fff"/>
<rect x="131.50" y="449.30" width="37.80" height="1.00" fill="#fff"/>
<rect x="131.50" y="460.90" width="37.80" height="1.00" fill="#fff"/>
<rect x="131.50" y="472.50" width="37.80" height="1.00" fill="#fff"/>
<rect x="131.50" y="484.10" width="37.80" height="1.00" fill="#fff"/>
<rect x="143.60" y="380.20" width="1.00" height="116.00" fill="#fff"/>
<rect x="156.20" y="380.20" width="1.00" height="116.00" fill="#fff"/>
<rect x="173.10" y="380.50" width="24.30" height="11.00" fill="#f0f0f0"/>
<rect x="203.00" y="380.50" width="25.20" height="11.00" fill="#f0f0f0"/>
<rect x="173.10" y="392.10" width="24.30" height="11.00" fill="#f0f0f0"/>
<rect x="203.00" y="392.10" width="25.20" height="11.00" fill="#f0f0f0"/>
<rect x="173.10" y="403.70" width="24.30" height="11.00" fill="#f0f0f0"/>
<rect x="203.00" y="403.70" width="25.20" height="11.00" fill="#f0f0f0"/>
<rect x="173.10" y="415.30" width="24.30" height="11.00" fill="#f0f0f0"/>
<rect x="203.00" y="415.30" width="25.20" height="11.00" fill="#f0f0f0"/>
<rect x="173.10" y="426.90" width="24.30" height="11.00" fill="#f0f0f0"/>
<rect x="203.00" y="426.90" width="25.20" height="11.00" fill="#f0f0f0"/>
<rect x="173.10" y="438.50" width="24.30" height="11.00" fill="#f0f0f0"/>
<rect x="203.00" y="438.50" width="25.20" height="11.00" fill="#f0f0f0"/>
<rect x="173.10" y="450.10" width="24.30" height="11.00" fill="#f0f0f0"/>
<rect x="203.00" y="450.10" width="25.20" height="11.00" fill="#f0f0f0"/>
<rect x="173.10" y="461.70" width="24.30" height="11.00" fill="#f0f0f0"/>
<rect x="203.00" y="461.70" width="25.20" height="11.00" fill="#f0f0f0"/>
<rect x="173.10" y="473.30" width="24.30" height="11.00" fill="#f0f0f0"/>
<rect x="203.00" y="473.30" width="25.20" height="11.00" fill="#f0f0f0"/>
<rect x="173.10" y="484.90" width="24.30" height="11.00" fill="#f0f0f0"/>
<rect x="203.00" y="484.90" width="25.20" height="11.00" fill="#f0f0f0"/>
<rect x="229.60" y="392.10" width="25.30" height="11.00" fill="#f0f0f0"/>
<rect x="229.60" y="415.30" width="25.30" height="11.00" fill="#f0f0f0"/>
<rect x="19.7" y="380.2" width="30.60" height="116.00" fill="none" stroke="#222" stroke-width="1.0"/>
<rect x="50.3" y="368.4" width="38.20" height="127.80" fill="none" stroke="#222" stroke-width="1.0"/>
<line x1="50.3" y1="380.2" x2="88.5" y2="380.2" stroke="#222" stroke-width="1.0"/>
<line x1="63.03" y1="368.4" x2="63.03" y2="380.2" stroke="#444" stroke-width="1.6"/>
<line x1="75.77" y1="368.4" x2="75.77" y2="380.2" stroke="#444" stroke-width="1.6"/>
<rect x="91.6" y="368.4" width="36.80" height="127.80" fill="none" stroke="#222" stroke-width="1.0"/>
<line x1="91.6" y1="380.2" x2="128.4" y2="380.2" stroke="#222" stroke-width="1.0"/>
<line x1="103.87" y1="368.4" x2="103.87" y2="380.2" stroke="#444" stroke-width="1.6"/>
<line x1="116.13" y1="368.4" x2="116.13" y2="380.2" stroke="#444" stroke-width="1.6"/>
<rect x="131.5" y="368.4" width="37.80" height="127.80" fill="none" stroke="#222" stroke-width="1.0"/>
<line x1="131.5" y1="380.2" x2="169.3" y2="380.2" stroke="#222" stroke-width="1.0"/>
<line x1="144.1" y1="368.4" x2="144.1" y2="380.2" stroke="#444" stroke-width="1.6"/>
<line x1="156.7" y1="368.4" x2="156.7" y2="380.2" stroke="#444" stroke-width="1.6"/>
<rect x="172.5" y="368.4" width="26.90" height="127.80" fill="none" stroke="#222" stroke-width="1.0"/>
<line x1="172.5" y1="380.2" x2="199.4" y2="380.2" stroke="#222" stroke-width="1.0"/>
<rect x="202.4" y="368.4" width="53.50" height="127.80" fill="none" stroke="#222" stroke-width="1.0"/>
<line x1="202.4" y1="380.2" x2="255.9" y2="380.2" stroke="#222" stroke-width="1.0"/>
<line x1="229.0" y1="368.4" x2="229.0" y2="380.2" stroke="#444" stroke-width="1.6"/>
<line x1="19.7" y1="438.2" x2="50.3" y2="438.2" stroke="#222" stroke-width="1.0"/>
<line x1="50.3" y1="438.2" x2="88.5" y2="438.2" stroke="#222" stroke-width="1.0"/>
<line x1="91.6" y1="438.2" x2="128.4" y2="438.2" stroke="#222" stroke-width="1.0"/>
<line x1="131.5" y1="438.2" x2="169.3" y2="438.2" stroke="#222" stroke-width="1.0"/>
<line x1="172.5" y1="438.2" x2="199.4" y2="438.2" stroke="#222" stroke-width="1.0"/>
<line x1="202.4" y1="438.2" x2="255.9" y2="438.2" stroke="#222" stroke-width="1.0"/>
<text x="57.37" y="377.5" font-size="8.2" text-anchor="middle" fill="#222" stroke="#222" stroke-width="0.28">D</text>
<text x="69.4" y="377.5" font-size="8.2" text-anchor="middle" fill="#222" stroke="#222" stroke-width="0.28">R1</text>
<text x="82.13" y="377.5" font-size="8.2" text-anchor="middle" fill="#222" stroke="#222" stroke-width="0.28">R2</text>
<text x="98.43" y="377.5" font-size="8.2" text-anchor="middle" fill="#222" stroke="#222" stroke-width="0.28">D</text>
<text x="110.0" y="377.5" font-size="8.2" text-anchor="middle" fill="#222" stroke="#222" stroke-width="0.28">R1</text>
<text x="122.27" y="377.5" font-size="8.2" text-anchor="middle" fill="#222" stroke="#222" stroke-width="0.28">R2</text>
<text x="138.5" y="377.5" font-size="8.2" text-anchor="middle" fill="#222" stroke="#222" stroke-width="0.28">D</text>
<text x="150.4" y="377.5" font-size="8.2" text-anchor="middle" fill="#222" stroke="#222" stroke-width="0.28">R1</text>
<text x="163.0" y="377.5" font-size="8.2" text-anchor="middle" fill="#222" stroke="#222" stroke-width="0.28">R2</text>
<text x="185.9" y="377.6" font-size="8.0" text-anchor="middle" fill="#222" stroke="#222" stroke-width="0.28">D</text>
<text x="216.0" y="377.6" font-size="8.0" text-anchor="middle" fill="#222" stroke="#222" stroke-width="0.28" textLength="17.5" lengthAdjust="spacingAndGlyphs">D-R1</text>
<text x="242.5" y="377.6" font-size="8.0" text-anchor="middle" fill="#222" stroke="#222" stroke-width="0.28" textLength="23.5" lengthAdjust="spacingAndGlyphs">R1-R2</text>
<text x="35.0" y="389.3" font-size="9.6" text-anchor="middle" fill="#222" stroke="#222" stroke-width="0.28">4</text>
<text x="185.9" y="389.3" font-size="9.6" text-anchor="middle" fill="#222" stroke="#222" stroke-width="0.28">29</text>
<text x="215.8" y="389.3" font-size="9.6" text-anchor="middle" fill="#222" stroke="#222" stroke-width="0.28">5.6</text>
<text x="35.0" y="400.9" font-size="9.6" text-anchor="middle" fill="#222" stroke="#222" stroke-width="0.28">5</text>
<text x="185.9" y="400.9" font-size="9.6" text-anchor="middle" fill="#222" stroke="#222" stroke-width="0.28">67</text>
<text x="215.8" y="400.9" font-size="9.6" text-anchor="middle" fill="#222" stroke="#222" stroke-width="0.28">2.8</text>
<text x="242.3" y="400.9" font-size="9.6" text-anchor="middle" fill="#222" stroke="#222" stroke-width="0.28">1.3</text>
<text x="35.0" y="412.5" font-size="9.6" text-anchor="middle" fill="#222" stroke="#222" stroke-width="0.28">8</text>
<text x="185.9" y="412.5" font-size="9.6" text-anchor="middle" fill="#222" stroke="#222" stroke-width="0.28">23</text>
<text x="215.8" y="412.5" font-size="9.6" text-anchor="middle" fill="#222" stroke="#222" stroke-width="0.28">13.0</text>
<text x="35.0" y="424.1" font-size="9.6" text-anchor="middle" fill="#222" stroke="#222" stroke-width="0.28">14</text>
<text x="185.9" y="424.1" font-size="9.6" text-anchor="middle" fill="#222" stroke="#222" stroke-width="0.28">24</text>
<text x="215.8" y="424.1" font-size="9.6" text-anchor="middle" fill="#222" stroke="#222" stroke-width="0.28">7.6</text>
<text x="242.3" y="424.1" font-size="9.6" text-anchor="middle" fill="#222" stroke="#222" stroke-width="0.28">2.3</text>
<text x="35.0" y="435.7" font-size="9.6" text-anchor="middle" fill="#222" stroke="#222" stroke-width="0.28">43</text>
<text x="185.9" y="435.7" font-size="9.6" text-anchor="middle" fill="#222" stroke="#222" stroke-width="0.28">27</text>
<text x="215.8" y="435.7" font-size="9.6" text-anchor="middle" fill="#222" stroke="#222" stroke-width="0.28">1.7</text>
<text x="35.0" y="447.3" font-size="9.6" text-anchor="middle" fill="#222" stroke="#222" stroke-width="0.28">7</text>
<text x="185.9" y="447.3" font-size="9.6" text-anchor="middle" fill="#222" stroke="#222" stroke-width="0.28">50</text>
<text x="215.8" y="447.3" font-size="9.6" text-anchor="middle" fill="#222" stroke="#222" stroke-width="0.28">9.7</text>
<text x="35.0" y="458.9" font-size="9.6" text-anchor="middle" fill="#222" stroke="#222" stroke-width="0.28">19</text>
<text x="185.9" y="458.9" font-size="9.6" text-anchor="middle" fill="#222" stroke="#222" stroke-width="0.28">21</text>
<text x="215.8" y="458.9" font-size="9.6" text-anchor="middle" fill="#222" stroke="#222" stroke-width="0.28">5.8</text>
<text x="35.0" y="470.5" font-size="9.6" text-anchor="middle" fill="#222" stroke="#222" stroke-width="0.28">21</text>
<text x="185.9" y="470.5" font-size="9.6" text-anchor="middle" fill="#222" stroke="#222" stroke-width="0.28">22</text>
<text x="215.8" y="470.5" font-size="9.6" text-anchor="middle" fill="#222" stroke="#222" stroke-width="0.28">1.0</text>
<text x="35.0" y="482.1" font-size="9.6" text-anchor="middle" fill="#222" stroke="#222" stroke-width="0.28">52</text>
<text x="185.9" y="482.1" font-size="9.6" text-anchor="middle" fill="#222" stroke="#222" stroke-width="0.28">22</text>
<text x="215.8" y="482.1" font-size="9.6" text-anchor="middle" fill="#222" stroke="#222" stroke-width="0.28">1.0</text>
<text x="35.0" y="493.7" font-size="9.6" text-anchor="middle" fill="#222" stroke="#222" stroke-width="0.28">54</text>
<text x="185.9" y="493.7" font-size="9.6" text-anchor="middle" fill="#222" stroke="#222" stroke-width="0.28">4</text>
<text x="215.8" y="493.7" font-size="9.6" text-anchor="middle" fill="#222" stroke="#222" stroke-width="0.28">3.8</text>
<text x="14.2" y="409.3" font-size="8.8" text-anchor="middle" fill="#222" stroke="#222" stroke-width="0.4" textLength="26.6" lengthAdjust="spacingAndGlyphs" transform="rotate(-90 14.2 409.3)">Distinct R</text>
<text x="14.2" y="467.2" font-size="8.8" text-anchor="middle" fill="#222" stroke="#222" stroke-width="0.4" textLength="35.4" lengthAdjust="spacingAndGlyphs" transform="rotate(-90 14.2 467.2)">Discordant R</text>
<text x="43.2" y="508.6" font-size="7.0" text-anchor="start" fill="#333" stroke="#333" stroke-width="0.28" textLength="44.6" lengthAdjust="spacingAndGlyphs">Clonality score</text>
<text x="106.7" y="508.4" font-size="7.0" text-anchor="start" fill="#333" stroke="#333" stroke-width="0.28" textLength="33.9" lengthAdjust="spacingAndGlyphs">EBV status</text>
<text x="164.6" y="508.5" font-size="7.0" text-anchor="start" fill="#333" stroke="#333" stroke-width="0.28" textLength="38.9" lengthAdjust="spacingAndGlyphs">cHL subtype</text>
<rect x="43.00" y="515.50" width="4.00" height="3.60" fill="#3f7f47"/>
<text x="50.1" y="519.0" font-size="7.0" text-anchor="start" fill="#333" stroke="#333" stroke-width="0.28" textLength="32.1" lengthAdjust="spacingAndGlyphs">Clone in D</text>
<rect x="43.00" y="526.30" width="4.00" height="3.60" fill="#93b885"/>
<text x="50.1" y="529.8" font-size="7.0" text-anchor="start" fill="#333" stroke="#333" stroke-width="0.28" textLength="47.2" lengthAdjust="spacingAndGlyphs">Clone in R1/R2</text>
<rect x="43.00" y="537.10" width="4.00" height="3.60" fill="#acd2dc"/>
<text x="50.1" y="540.6" font-size="7.0" text-anchor="start" fill="#333" stroke="#333" stroke-width="0.28" textLength="31.2" lengthAdjust="spacingAndGlyphs">Polyclonal</text>
<rect x="106.40" y="515.50" width="4.00" height="3.60" fill="#179a8a"/>
<text x="113.6" y="519.0" font-size="7.0" text-anchor="start" fill="#333" stroke="#333" stroke-width="0.28" textLength="39.2" lengthAdjust="spacingAndGlyphs">EBV Positive</text>
<rect x="106.40" y="526.30" width="4.00" height="3.60" fill="#e2cc8c"/>
<text x="113.6" y="529.8" font-size="7.0" text-anchor="start" fill="#333" stroke="#333" stroke-width="0.28" textLength="42.6" lengthAdjust="spacingAndGlyphs">EBV Negative</text>
<rect x="164.70" y="515.50" width="4.00" height="3.60" fill="#d05a5e"/>
<text x="172.0" y="519.0" font-size="7.0" text-anchor="start" fill="#333" stroke="#333" stroke-width="0.28" textLength="18.3" lengthAdjust="spacingAndGlyphs">NSHL</text>
<rect x="194.60" y="515.50" width="4.00" height="3.60" fill="#e8b0a0"/>
<text x="201.8" y="519.0" font-size="7.0" text-anchor="start" fill="#333" stroke="#333" stroke-width="0.28" textLength="17.3" lengthAdjust="spacingAndGlyphs">LRHL</text>
<rect x="164.70" y="526.50" width="4.00" height="3.60" fill="#9a809c"/>
<text x="172.0" y="530.0" font-size="7.0" text-anchor="start" fill="#333" stroke="#333" stroke-width="0.28" textLength="19.8" lengthAdjust="spacingAndGlyphs">MCHL</text>
<rect x="194.60" y="526.50" width="4.00" height="3.60" fill="#c6e2da"/>
<text x="201.8" y="530.0" font-size="7.0" text-anchor="start" fill="#333" stroke="#333" stroke-width="0.28" textLength="30.4" lengthAdjust="spacingAndGlyphs">cHL-NOS</text>
</g>
<g id="panelC">
<text x="270.8" y="349.8" font-size="10.5" font-weight="bold" text-anchor="start" fill="#111" stroke="#111" stroke-width="0.22">C</text>
<rect x="353.10" y="364.00" width="78.40" height="29.20" fill="#d9dbe7"/>
<rect x="311.00" y="409.20" width="71.30" height="29.80" fill="#d9dbe7"/>
<rect x="270.50" y="466.20" width="72.50" height="29.30" fill="#d9dbe7"/>
<rect x="356.50" y="466.20" width="71.30" height="29.30" fill="#d9dbe7"/>
<rect x="441.50" y="466.20" width="71.20" height="29.30" fill="#d9dbe7"/>
<line x1="392.5" y1="393.2" x2="392.5" y2="456.0" stroke="#222" stroke-width="1.2"/>
<line x1="382.3" y1="424.4" x2="392.5" y2="424.4" stroke="#222" stroke-width="1.2"/>
<path d="M306.3 466.2 L306.3 455.8 L477.5 455.8 L477.5 466.2" fill="none" stroke="#222" stroke-width="1.2"/>
<line x1="392.5" y1="455.8" x2="392.5" y2="466.2" stroke="#222" stroke-width="1.2"/>
<text x="392.3" y="376.9" font-size="7.5" font-weight="bold" text-anchor="middle" fill="#111" stroke="#111" stroke-width="0.22" textLength="63" lengthAdjust="spacingAndGlyphs">IG-NGS Clonality</text>
<text x="392.3" y="386.2" font-size="7.5" text-anchor="middle" fill="#333" stroke="#333" stroke-width="0.28" textLength="67" lengthAdjust="spacingAndGlyphs">Total cohort (n = 60)</text>
<text x="346.6" y="417.1" font-size="7.5" font-weight="bold" text-anchor="middle" fill="#111" stroke="#111" stroke-width="0.22" textLength="50" lengthAdjust="spacingAndGlyphs">Not evaluable</text>
<text x="346.6" y="427.1" font-size="7.5" text-anchor="middle" fill="#333" stroke="#333" stroke-width="0.28" textLength="54" lengthAdjust="spacingAndGlyphs">Low DNA quality</text>
<text x="346.6" y="436.4" font-size="7.5" text-anchor="middle" fill="#333" stroke="#333" stroke-width="0.28" textLength="22" lengthAdjust="spacingAndGlyphs">(n = 7)</text>
<text x="306.6" y="474.0" font-size="7.5" font-weight="bold" text-anchor="middle" fill="#111" stroke="#111" stroke-width="0.22" textLength="45" lengthAdjust="spacingAndGlyphs">Inconclusive</text>
<text x="306.6" y="483.0" font-size="7.5" text-anchor="middle" fill="#333" stroke="#333" stroke-width="0.28" textLength="65" lengthAdjust="spacingAndGlyphs">No clones detected</text>
<text x="306.6" y="492.3" font-size="7.5" text-anchor="middle" fill="#333" stroke="#333" stroke-width="0.28" textLength="26" lengthAdjust="spacingAndGlyphs">(n = 19)</text>
<text x="392.3" y="479.4" font-size="7.5" font-weight="bold" text-anchor="middle" fill="#111" stroke="#111" stroke-width="0.22" textLength="58" lengthAdjust="spacingAndGlyphs">Clonally related</text>
<text x="392.3" y="488.5" font-size="7.5" text-anchor="middle" fill="#333" stroke="#333" stroke-width="0.28" textLength="26" lengthAdjust="spacingAndGlyphs">(n = 24)</text>
<text x="477.3" y="479.4" font-size="7.5" font-weight="bold" text-anchor="middle" fill="#111" stroke="#111" stroke-width="0.22" textLength="67" lengthAdjust="spacingAndGlyphs">Clonally unrelated</text>
<text x="477.3" y="488.5" font-size="7.5" text-anchor="middle" fill="#333" stroke="#333" stroke-width="0.28" textLength="26" lengthAdjust="spacingAndGlyphs">(n = 10)</text>
</g>
<rect x="0.5" y="0.5" width="519" height="548" fill="none" stroke="#5a5a5a" stroke-width="1"/>
</svg>
</body></html>
